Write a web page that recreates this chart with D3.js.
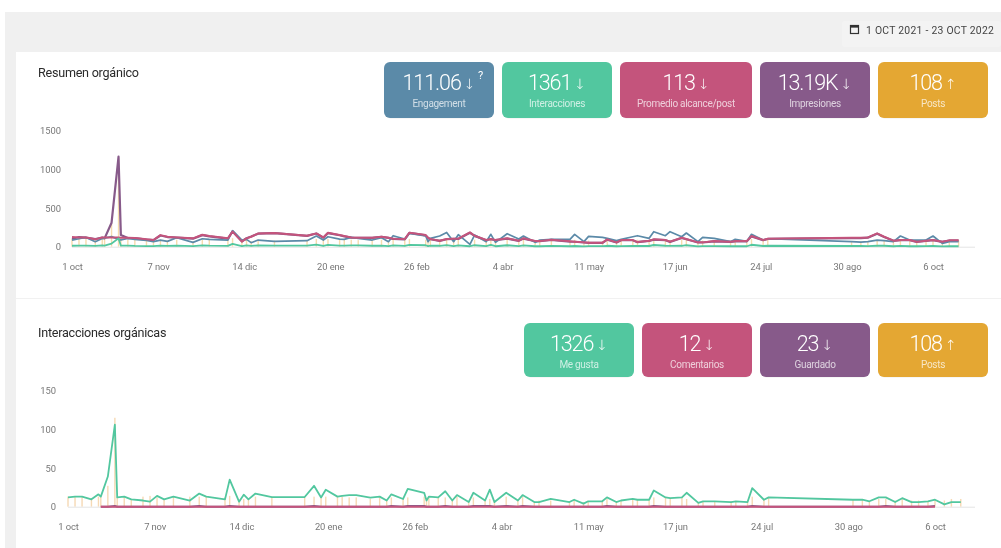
<!DOCTYPE html>
<html><head><meta charset="utf-8">
<script src="https://cdn.jsdelivr.net/npm/d3@7"></script>
<style>
html,body{margin:0;padding:0;background:#fff;overflow:hidden}
svg{display:block;font-family:Roboto,sans-serif;filter:blur(0.5px)}
.tick text{font-family:Roboto,sans-serif}
</style></head><body>
<svg id="c" width="1001" height="548"></svg>
<script>
const startDate = Date.UTC(2021, 9, 1);
const postDays = [
0,3,6,10,13,14,17,20,21,24,
27,32,35,38,41,45,52,56,59,67,
69,73,75,77,80,87,101,105,108,110,
115,117,120,123,129,133,136,138,143,145,
152,153,154,158,161,164,166,171,173,178,
180,182,187,192,194,199,201,206,214,216,
220,222,228,230,234,236,241,243,248,250,
255,257,262,264,269,271,276,283,285,290,
292,297,299,335,339,342,346,349,353,356,
360,363,367,370,374,377,381];
const engagement = [
86,103,120,65,105,110,130,95,86,108,
95,82,65,86,69,116,56,103,95,86,
207,86,95,52,86,69,78,138,86,129,
99,95,120,108,86,116,65,142,99,172,
138,65,108,138,185,65,155,30,150,65,
160,56,168,99,138,56,86,95,95,160,
65,134,120,108,78,95,129,142,108,194,
142,194,129,177,65,120,108,65,95,69,
160,86,103,65,60,65,86,78,65,138,
86,86,86,138,43,65,65];
const interacciones = [
12,13,14,10,17,14,41,108,13,14,
10,8,7,15,10,14,8,18,14,10,
37,7,16,10,18,13,13,28,12,23,
14,15,16,16,12,14,8,17,10,24,
19,8,14,12,21,8,16,6,19,8,
23,6,19,8,16,6,6,10,6,9,
4,7,7,12,6,8,10,9,9,22,
12,11,12,19,5,7,7,6,7,6,
25,9,12,9,9,7,12,12,6,11,
6,6,7,9,3,6,6];
const promedioAlcance = [
125,120,120,95,120,120,120,118,115,115,
112,95,86,150,129,120,108,155,138,108,
195,65,108,129,172,177,142,172,120,180,
150,138,120,116,116,129,116,103,99,181,
150,116,99,78,99,103,103,185,142,86,
99,86,108,78,108,73,73,90,69,65,
56,52,52,95,56,86,86,60,78,95,
86,65,116,99,56,56,73,65,73,73,
138,86,103,116,116,120,172,129,78,86,
86,65,78,86,65,82,82];
const impresiones = [
100,125,118,100,118,108,310,1164,150,112,
110,92,84,145,125,118,104,150,134,104,
200,70,110,132,168,175,140,170,116,176,
148,134,118,114,114,126,114,100,96,178,
146,114,96,76,96,100,100,180,140,84,
96,84,105,76,105,70,72,88,66,64,
54,50,50,92,54,84,84,58,76,92,
84,62,112,96,54,54,70,62,70,70,
134,84,100,112,112,117,168,126,76,84,
84,62,76,84,62,80,80];
const postsBars1 = [
100,100,100,90,100,100,300,1150,110,90,
90,80,80,90,80,90,70,90,90,85,
110,70,90,70,90,80,80,100,85,100,
90,90,90,85,85,90,70,90,85,100,
90,70,90,90,90,70,90,50,90,70,
90,60,90,80,90,60,70,80,70,90,
60,80,70,90,70,80,90,90,80,100,
90,80,90,90,60,80,80,65,80,70,
100,80,90,70,70,70,85,80,70,90,
80,70,80,90,50,80,80];
const meGusta = [
12,13,13,9.5,16,13,39,106,12,13,
9.5,8,6.5,14,9.5,13,8,17,13,9.5,
35,6.5,15.5,9.5,17,12.5,12.5,27,12,22,
13,14,15,15,11.6,13,8,16,10,23,
18,8,13,12,20,8,15,6,18,8,
22,6,18,8,15,6,6,10,6,9,
4,7,7,12,6,8,10,9,9,21,
12,11,12,18,5,7,7,6,7,6,
24,9,12,9,9,7,12,12,6,11,
6,6,7,9,3,6,6];
const comentarios = [
null,null,null,null,null,0,0,0,0,0,
0,0,0,0,0,0,0,0,0,0,
0,0,0,0,0,0,0,0,0,0,
0,0,0,0,0,0,0,0,0,0,
0,0,0,0,0,0,0,0,0,0,
0,0,0,0,0,0,0,0,0,0,
0,0,0,0,0,0,0,0,0,0,
0,0,0,0,0,0,0,0,0,0,
0,0,0,0,0,0,0,0,0,0,
0,0,0,0,null,null,null];
const guardado = [
null,null,null,null,null,0,0,1,0,0,
0,0,0,0,0,0,0,1,0,0,
1,0,0,0,0,0,0,1,0,0,
0,0,0,0,0,0,0,1,0,1,
1,0,0,0,1,0,0,0,1,1,
1,0,1,0,1,0,0,0,0,0,
0,0,0,1,0,0,0,0,0,1,
0,0,0,0,0,0,0,0,0,0,
1,0,0,0,0,0,0,1,0,0,
0,0,0,1,null,null,null];
const postsBars2 = [
13,13,13,10,13,13,27,115,12,13,
10,13,14,12,10,13,13,13,13,12,
14,7,10,10,13,12,12,13,12,13,
13,13,12,12,10,12,8,12,10,12,
13,8,13,12,12,8,13,6,12,8,
10,6,13,8,13,6,8,8,6,9,
6,7,7,10,7,8,10,9,9,12,
12,11,12,10,5,7,7,7,7,7,
13,9,12,9,9,7,10,10,8,11,
8,8,7,9,8,10,10];
const tickDays = [0,37,74,111,148,185,222,259,296,333,370];
const tickLabels = ["1 oct","7 nov","14 dic","20 ene","26 feb","4 abr","11 may","17 jun","24 jul","30 ago","6 oct"];
const yTicks1 = [0,500,1000,1500];
const yTicks2 = [0,50,100,150];
const cards1 = [["111.06","↓","Engagement"],["1361","↓","Interacciones"],["113","↓","Promedio alcance/post"],["13.19K","↓","Impresiones"],["108","↑","Posts"]];
const cards2 = [["1326","↓","Me gusta"],["12","↓","Comentarios"],["23","↓","Guardado"],["108","↑","Posts"]];
const colBlue="#5b8aa8",colGreen="#52c79f",colPink="#c4547c",colPurple="#875a8a",colOrange="#e4a733";

const svg = d3.select("#c");
const day = n => new Date(startDate + n*864e5);

svg.append("rect").attr("x",5).attr("y",12).attr("width",996).attr("height",536).attr("fill","#f0f0f0");
svg.append("rect").attr("x",16).attr("y",52).attr("width",985).attr("height",496).attr("fill","#fff");
svg.append("rect").attr("x",16).attr("y",298).attr("width",985).attr("height",1).attr("fill","#f1f1f1");

svg.append("rect").attr("x",842).attr("y",21).attr("width",159).attr("height",26).attr("rx",3).attr("fill","#f3f3f3");
const ic = svg.append("g").attr("fill","none").attr("stroke","#333");
ic.append("rect").attr("x",850.5).attr("y",25.5).attr("width",8).attr("height",8).attr("stroke-width",1.2);
ic.append("rect").attr("x",850.5).attr("y",25.5).attr("width",8).attr("height",1.6).attr("fill","#333").attr("stroke-width",1);
svg.append("text").attr("x",866).attr("y",33.5).attr("font-size",10.4).attr("letter-spacing",0.25).attr("fill","#444").text("1 OCT 2021 - 23 OCT 2022");

function drawCards(cards, boxes, colors, y0, h){
  cards.forEach((c,i)=>{
    const [x0,x1]=boxes[i], cx=(x0+x1)/2;
    svg.append("rect").attr("x",x0+0.5).attr("y",y0+1.5).attr("width",x1-x0-1).attr("height",h-1).attr("rx",6).attr("fill","#000").attr("opacity",0.07);
    svg.append("rect").attr("x",x0).attr("y",y0).attr("width",x1-x0).attr("height",h).attr("rx",6).attr("fill",colors[i]);
    const t=svg.append("text").attr("x",cx).attr("y",y0+28).attr("text-anchor","middle").attr("fill","#fff");
    t.append("tspan").attr("font-size",21.5).attr("font-weight",300).attr("letter-spacing",-1.1).text(c[0]);
    t.append("tspan").attr("font-size",14).attr("font-family","'DejaVu Sans'").attr("font-weight",300).attr("dx",3).attr("dy",-1).text(c[1]);
    svg.append("text").attr("x",cx).attr("y",y0+45).attr("text-anchor","middle").attr("font-size",10).attr("letter-spacing",-0.3).attr("fill","#fff").attr("fill-opacity",0.72).text(c[2]);
  });
}
drawCards(cards1,[[384,494],[502,612],[620,752],[760,870],[878,988]],[colBlue,colGreen,colPink,colPurple,colOrange],62,56);
drawCards(cards2,[[524,634],[642,752],[760,870],[878,988]],[colGreen,colPink,colPurple,colOrange],323,54);
svg.append("text").attr("x",478).attr("y",79).attr("font-size",11).attr("fill","#fff").text("?");

function chart(o){
  const x=d3.scaleUtc().domain([day(0),day(370)]).range(o.xr);
  const y=d3.scaleLinear().domain(o.yd).range(o.yr);
  svg.append("text").attr("x",38).attr("y",o.titleY).attr("font-size",12.6).attr("letter-spacing",-0.25).attr("fill","#2b2b2b").text(o.title);
  svg.append("g").selectAll("rect").data(o.bars).join("rect")
    .attr("x",(d,i)=>x(day(postDays[i]))-0.7).attr("width",1.4)
    .attr("y",d=>y(d)).attr("height",d=>y(0)-y(d)).attr("fill",o.barColor);
  const ax=d3.axisBottom(x).tickValues(tickDays.map(day)).tickSize(0).tickPadding(0)
    .tickFormat((d,i)=>tickLabels[i]);
  const gx=svg.append("g").attr("transform",`translate(0,${o.labelY})`).call(ax);
  gx.select(".domain").remove();
  gx.selectAll("text").attr("font-size",9.4).attr("letter-spacing",-0.1).attr("fill","#777").attr("dy",0).attr("y",0);
  svg.append("line").attr("x1",o.xr[0]).attr("x2",975).attr("y1",y(0)+0.5).attr("y2",y(0)+0.5).attr("stroke","#e4e4e4");
  const ay=d3.axisLeft(y).tickValues(o.yt).tickFormat(d3.format("d")).tickSize(0).tickPadding(0);
  const gy=svg.append("g").attr("transform",`translate(${o.yAxisX},0)`).call(ay);
  gy.select(".domain").remove();
  gy.selectAll("text").attr("font-size",9.4).attr("fill","#777");
  const line=d3.line().defined(d=>d!==null).x((d,i)=>x(day(postDays[i]))).y(d=>y(d));
  o.series.forEach(s=>{
    svg.append("path").datum(s.v).attr("d",line).attr("fill","none").attr("stroke",s.c).attr("stroke-width",s.w).attr("stroke-linejoin","round");
  });
}
chart({title:"Resumen orgánico",titleY:77,xr:[72,933],yd:[0,1500],yr:[246.7,130.7],yt:yTicks1,labelY:270,yAxisX:61,bars:postsBars1,barColor:"#f6dcae",
  series:[{v:impresiones,c:colPurple,w:2.2},{v:engagement,c:colBlue,w:1.7},{v:promedioAlcance,c:colPink,w:2},{v:interacciones,c:colGreen,w:1.8}]});
chart({title:"Interacciones orgánicas",titleY:337,xr:[68,935],yd:[0,150],yr:[506.7,390.7],yt:yTicks2,labelY:530,yAxisX:56,bars:postsBars2,barColor:"#f6d9b4",
  series:[{v:guardado,c:colPurple,w:2},{v:comentarios,c:colPink,w:2},{v:meGusta,c:colGreen,w:1.8}]});
</script></body></html>
